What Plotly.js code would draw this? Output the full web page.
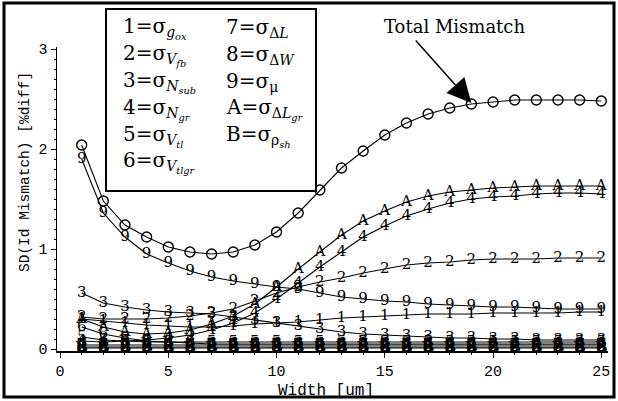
<!DOCTYPE html>
<html>
<head>
<meta charset="utf-8">
<script src="https://cdn.plot.ly/plotly-3.0.1.min.js"></script>
<style>
html,body{margin:0;padding:0;background:#fff}
</style>
</head>
<body>
<div id="chart" style="width:618px;height:401px"></div>
<script>
// Data (x = width in um)
const widths = [1,2,3,4,5,6,7,8,9,10,11,12,13,14,15,16,17,18,19,20,21,22,23,24,25];
const totalMismatch = [2.04,1.48,1.24,1.12,1.02,0.97,0.95,0.97,1.04,1.17,1.36,1.59,1.81,1.98,2.14,2.26,2.35,2.41,2.45,2.47,2.49,2.49,2.49,2.49,2.48];
const s9 = [1.90,1.36,1.12,0.95,0.86,0.78,0.72,0.68,0.65,0.62,0.60,0.56,0.52,0.50,0.48,0.47,0.45,0.44,0.43,0.42,0.42,0.41,0.40,0.40,0.40];
const sA = [0.30,0.22,0.17,0.15,0.16,0.19,0.25,0.33,0.45,0.62,0.80,0.97,1.14,1.28,1.38,1.47,1.53,1.57,1.59,1.61,1.62,1.63,1.63,1.63,1.63];
const s4 = [0.08,0.07,0.08,0.09,0.11,0.14,0.19,0.26,0.36,0.50,0.66,0.82,0.97,1.12,1.23,1.33,1.40,1.46,1.50,1.52,1.53,1.55,1.56,1.56,1.55];
const s2 = [0.32,0.30,0.30,0.30,0.31,0.33,0.36,0.40,0.48,0.56,0.62,0.67,0.71,0.76,0.80,0.84,0.86,0.87,0.89,0.90,0.90,0.90,0.91,0.91,0.91];
const s1 = [0.30,0.28,0.26,0.24,0.23,0.22,0.22,0.23,0.25,0.26,0.27,0.29,0.31,0.32,0.33,0.34,0.35,0.35,0.35,0.36,0.36,0.36,0.36,0.37,0.37];
const s3 = [0.56,0.46,0.42,0.39,0.37,0.36,0.35,0.32,0.29,0.26,0.23,0.20,0.17,0.15,0.14,0.13,0.12,0.11,0.11,0.10,0.10,0.09,0.09,0.09,0.09];
const s6 = [0.22,0.15,0.11,0.08,0.07,0.06,0.05,0.05,0.05,0.05,0.05,0.05,0.05,0.05,0.05,0.05,0.05,0.05,0.05,0.05,0.05,0.05,0.05,0.05,0.05];
const s5 = [0.12,0.09,0.08,0.07,0.07,0.07,0.07,0.07,0.07,0.07,0.07,0.07,0.07,0.07,0.07,0.07,0.07,0.07,0.07,0.07,0.07,0.07,0.07,0.07,0.07];
const s7 = [0.04,0.04,0.04,0.04,0.04,0.04,0.04,0.04,0.04,0.04,0.04,0.04,0.04,0.04,0.04,0.04,0.04,0.04,0.04,0.04,0.04,0.04,0.04,0.04,0.04];
const s8 = [0.02,0.02,0.02,0.02,0.02,0.02,0.02,0.02,0.02,0.02,0.02,0.02,0.02,0.02,0.02,0.02,0.02,0.02,0.02,0.02,0.02,0.02,0.02,0.02,0.02];
const sB = [0.01,0.01,0.01,0.01,0.01,0.01,0.01,0.01,0.01,0.01,0.01,0.01,0.01,0.01,0.01,0.01,0.01,0.01,0.01,0.01,0.01,0.01,0.01,0.01,0.01];
const seriesLabels = ['B','8','7','5','6','3','1','2','4','A','9'];
const seriesValues = [sB, s8, s7, s5, s6, s3, s1, s2, s4, sA, s9];
const xTickVals = [0,5,10,15,20,25];
const yTickVals = [0,1,2,3];
const legendLeft = ['1=σ<sub><i>g<sub>ox</sub></i></sub>','2=σ<sub><i>V<sub>fb</sub></i></sub>','3=σ<sub><i>N<sub>sub</sub></i></sub>','4=σ<sub><i>N<sub>gr</sub></i></sub>','5=σ<sub><i>V<sub>tl</sub></i></sub>','6=σ<sub><i>V<sub>tlgr</sub></i></sub>'];
const legendRight = ['7=σ<sub>Δ<i>L</i></sub>','8=σ<sub>Δ<i>W</i></sub>','9=σ<sub>μ</sub>','A=σ<sub>Δ<i>L<sub>gr</sub></i></sub>','B=σ<sub>ρ<sub><i>sh</i></sub></sub>'];

const boldLabels = ['B','8','7'];
const traces = [];
seriesValues.forEach((vals, i) => {
  traces.push({
    x: widths, y: vals, mode: 'lines+text', type: 'scatter',
    text: widths.map(() => seriesLabels[i]),
    textposition: 'middle center',
    textfont: {family: 'DejaVu Serif', size: 15, color: '#000', weight: boldLabels.includes(seriesLabels[i]) ? 'bold' : 'normal'},
    line: {color: '#000', width: 1.1},
    hoverinfo: 'skip', showlegend: false
  });
});
traces.push({
  x: widths, y: totalMismatch, mode: 'lines+markers', type: 'scatter',
  marker: {symbol: 'circle-open', size: 10, color: '#000', line: {width: 1.4, color: '#000'}},
  line: {color: '#000', width: 1.1},
  showlegend: false
});

// pixel helpers for paper coordinates
const L = 57, R = 608, T = 47, Bm = 351;
const px = v => (v - L) / (R - L);
const py = v => (Bm - v) / (Bm - T);

const annotations = [];
const rowsY = [28, 55, 82, 109, 136, 162];
legendLeft.forEach((t, i) => annotations.push({xref:'paper', yref:'paper', x: px(121), y: py(rowsY[i]), xanchor:'left', yanchor:'middle', text: t, showarrow:false, font:{family:'DejaVu Serif', size:20, color:'#000'}}));
legendRight.forEach((t, i) => annotations.push({xref:'paper', yref:'paper', x: px(224), y: py(rowsY[i]), xanchor:'left', yanchor:'middle', text: t, showarrow:false, font:{family:'DejaVu Serif', size:20, color:'#000'}}));
annotations.push({xref:'paper', yref:'paper', x: px(454), y: py(27), xanchor:'center', yanchor:'middle', text:'Total Mismatch', showarrow:false, font:{family:'DejaVu Serif', size:18, color:'#000'}});
annotations.push({x: 19, y: 2.46, xref:'x', yref:'y', text:'', showarrow:true, ax:-57, ay:-64, arrowhead:2, arrowsize:3.2, arrowwidth:1.5, arrowcolor:'#000'});
annotations.push({xref:'paper', yref:'paper', x: px(25), y: py(172), xanchor:'center', yanchor:'middle', textangle:-90, text:'SD(Id Mismatch) [%diff]', showarrow:false, font:{family:'Liberation Mono', size:14.5, color:'#000'}});
annotations.push({xref:'paper', yref:'paper', x: px(326), y: py(391), xanchor:'center', yanchor:'middle', text:'Width [um]', showarrow:false, font:{family:'Liberation Mono', size:16, color:'#000'}});

const layout = {
  width: 618, height: 401,
  margin: {l: L, r: 618 - R, t: T, b: 401 - Bm},
  paper_bgcolor: '#fff', plot_bgcolor: '#fff',
  xaxis: {range: [-0.14, 25.31], tickvals: xTickVals, ticktext: xTickVals.map(String), showgrid:false, zeroline:false,
    showline:true, linecolor:'#000', linewidth:1.5, ticks:'outside', ticklen:5, tickcolor:'#000',
    minor:{dtick:1, ticks:'outside', ticklen:2, tickcolor:'#000', showgrid:false},
    tickfont:{family:'Liberation Mono', size:15, color:'#000'}},
  yaxis: {range: [-0.02, 3.02], tickvals: yTickVals, showgrid:false, zeroline:false,
    showline:true, linecolor:'#000', linewidth:1.5, ticks:'outside', ticklen:5, tickcolor:'#000',
    minor:{dtick:0.1, ticks:'outside', ticklen:2, tickcolor:'#000', showgrid:false},
    tickfont:{family:'Liberation Mono', size:15, color:'#000'}},
  shapes: [
    {type:'rect', xref:'paper', yref:'paper', x0: px(4), x1: px(614), y0: py(397), y1: py(3), line:{color:'#000', width:3}, layer:'above'},
    {type:'rect', xref:'paper', yref:'paper', x0: px(106), x1: px(316), y0: py(191), y1: py(9), line:{color:'#000', width:2}, fillcolor:'#fff', layer:'above'}
  ],
  annotations: annotations
};
Plotly.newPlot('chart', traces, layout, {displayModeBar:false, staticPlot:true});
</script>
</body>
</html>
